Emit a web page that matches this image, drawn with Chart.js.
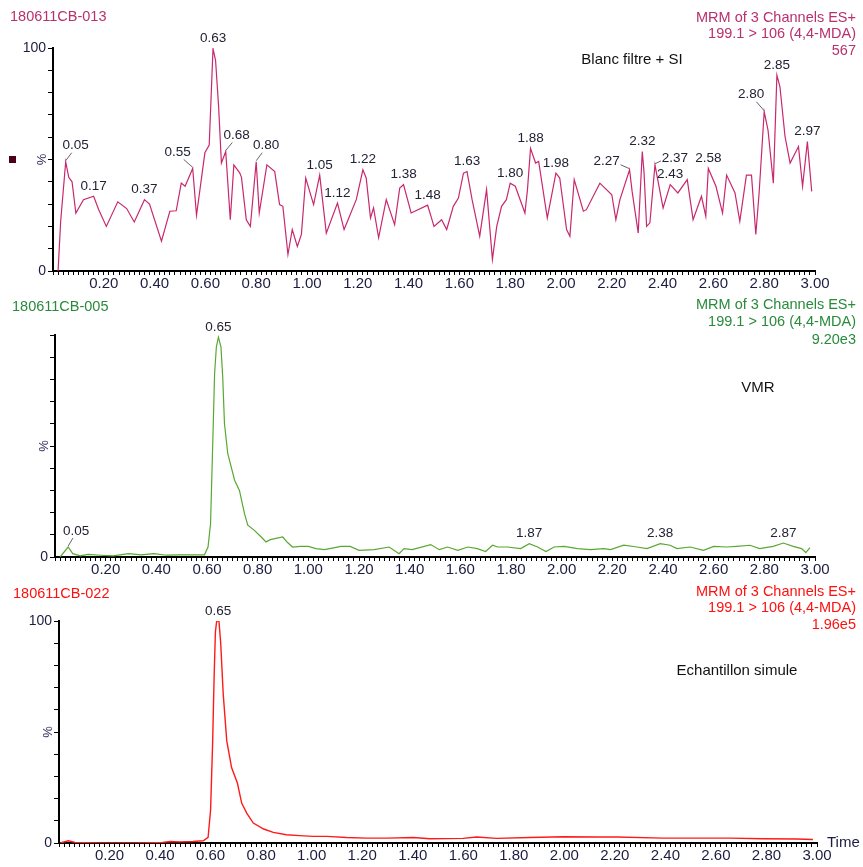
<!DOCTYPE html>
<html>
<head>
<meta charset="utf-8">
<script src="https://cdn.jsdelivr.net/npm/chart.js@4.4.0/dist/chart.umd.min.js"></script>
<style>
  body { margin: 0; background: #fff; width: 863px; height: 867px; overflow: hidden; position: relative; }
  canvas { position: absolute; left: 0; }
</style>
</head>
<body>
<canvas id="blanc" width="863" height="295" style="top:0px"></canvas>
<canvas id="vmr" width="863" height="295" style="top:290px"></canvas>
<canvas id="echant" width="863" height="287" style="top:580px"></canvas>
<script>
// x axis labels (minutes) and y ticks (%)
const xTickLabels = ["0.20", "0.40", "0.60", "0.80", "1.00", "1.20", "1.40", "1.60",
  "1.80", "2.00", "2.20", "2.40", "2.60", "2.80", "3.00"];
const yTickValues = [0, 10, 20, 30, 40, 50, 60, 70, 80, 90, 100];

// 180611CB-013 : Blanc filtre + SI
const blancTimes = [0.02, 0.03, 0.05, 0.062, 0.075, 0.09, 0.12, 0.16, 0.18, 0.21, 0.255, 0.29,
  0.32, 0.36, 0.38, 0.427, 0.46, 0.485, 0.505, 0.52, 0.55, 0.565, 0.585, 0.598, 0.615, 0.63,
  0.64, 0.652, 0.663, 0.68, 0.698, 0.712, 0.735, 0.742, 0.761, 0.777, 0.8, 0.812, 0.842, 0.873,
  0.892, 0.905, 0.925, 0.942, 0.962, 0.978, 0.995, 1.026, 1.05, 1.076, 1.12, 1.146, 1.194, 1.22,
  1.233, 1.25, 1.262, 1.282, 1.312, 1.345, 1.365, 1.38, 1.41, 1.475, 1.49, 1.5, 1.53, 1.55,
  1.576, 1.596, 1.616, 1.63, 1.65, 1.68, 1.707, 1.73, 1.747, 1.766, 1.785, 1.8, 1.82, 1.858,
  1.868, 1.88, 1.9, 1.912, 1.946, 1.98, 1.995, 2.022, 2.035, 2.052, 2.088, 2.1, 2.153, 2.2,
  2.216, 2.232, 2.27, 2.28, 2.304, 2.32, 2.327, 2.337, 2.35, 2.37, 2.376, 2.402, 2.43, 2.46,
  2.497, 2.52, 2.553, 2.57, 2.58, 2.61, 2.636, 2.652, 2.685, 2.704, 2.73, 2.75, 2.767, 2.78,
  2.8, 2.815, 2.836, 2.85, 2.862, 2.882, 2.902, 2.935, 2.951, 2.97, 2.987];
const blancValues = [0, 22, 49, 42, 40, 26, 32, 33.5, 27.5, 20, 31, 28,
  22, 32, 30, 13.4, 26.8, 27, 39.4, 38, 46, 25, 42, 53, 56.5, 99.7,
  94.5, 73.7, 48.4, 53.6, 23, 47.6, 44, 42, 23, 20, 49, 26, 47.6, 44.6,
  29.8, 29, 7.4, 18.6, 11, 16.4, 41.7, 29.8, 43, 17, 30.5, 18.6, 32, 45.4,
  41.7, 23.8, 28.3, 14.9, 32, 20.8, 37.2, 38.7, 26, 29.5, 23.8, 20, 23, 18.6,
  29, 32.7, 43.9, 44.6, 32, 15.6, 36.5, 5.2, 20, 29, 32, 39.4, 38, 26,
  36.5, 55, 48.4, 49.1, 23.8, 43.9, 41.7, 18.6, 15.6, 41, 26.8, 27.5, 39.4, 34.2,
  23, 32, 45.4, 35.7, 17, 53.6, 44, 20, 21.6, 47.6, 43.9, 28.3, 38.7, 35,
  41, 23, 33.5, 24.6, 46, 38, 26, 43, 35, 22.3, 43, 43, 16.4, 35,
  71.4, 63.2, 39.4, 87.8, 82.6, 60.3, 48.4, 55.8, 38, 58, 35.7];
const blancPeaks = [["0.05", 0.05, 49], ["0.17", 0.16, 33.5], ["0.37", 0.36, 32], ["0.55", 0.55, 46],
  ["0.63", 0.63, 99.7], ["0.68", 0.68, 53.6], ["0.80", 0.8, 49], ["1.05", 1.05, 43], ["1.12", 1.12, 30.5],
  ["1.22", 1.22, 45.4], ["1.38", 1.38, 38.7], ["1.48", 1.475, 29.5], ["1.63", 1.63, 44.6], ["1.80", 1.8, 39.4],
  ["1.88", 1.88, 55], ["1.98", 1.98, 43.9], ["2.27", 2.27, 45.4], ["2.32", 2.32, 53.6], ["2.37", 2.37, 47.6],
  ["2.43", 2.43, 38.7], ["2.58", 2.58, 46], ["2.80", 2.8, 71.4], ["2.85", 2.85, 87.8], ["2.97", 2.97, 58]];

// 180611CB-005 : VMR
const vmrTimes = [0.02, 0.052, 0.07, 0.1, 0.13, 0.18, 0.23, 0.29, 0.34, 0.39, 0.44, 0.49, 0.55, 0.59,
  0.604, 0.614, 0.623, 0.63, 0.637, 0.645, 0.655, 0.662, 0.669, 0.682, 0.709, 0.728, 0.748, 0.761,
  0.787, 0.814, 0.833, 0.85, 0.899, 0.918, 0.938, 0.97, 1.0, 1.03, 1.063, 1.095, 1.128, 1.165, 1.2,
  1.26, 1.319, 1.358, 1.378, 1.41, 1.483, 1.517, 1.55, 1.59, 1.63, 1.667, 1.7, 1.727, 1.747, 1.786,
  1.838, 1.872, 1.905, 1.938, 1.97, 2.01, 2.062, 2.114, 2.167, 2.193, 2.245, 2.297, 2.337, 2.389,
  2.428, 2.455, 2.507, 2.56, 2.6, 2.652, 2.691, 2.743, 2.782, 2.835, 2.875, 2.914, 2.947, 2.964, 2.98];
const vmrValues = [0, 4.5, 1.5, 0.5, 1.2, 0.8, 0.5, 1.5, 1, 1.5, 0.8, 1, 1, 1,
  4.5, 15, 52.6, 82.7, 94.7, 99, 94.7, 81.2, 60, 46.6, 34.6, 30, 19.5, 14.3,
  12, 9, 6.8, 7.8, 9, 6.5, 4.5, 4.8, 4.8, 3.8, 3.3, 4, 4.8, 4.8, 3,
  3.3, 4.5, 1.5, 3.8, 3.3, 5.6, 3.3, 4.5, 3, 4.5, 3.8, 2.5, 5.3, 4.5, 4.5,
  3.8, 6, 4.5, 2.5, 4.5, 4.8, 3.8, 3.3, 3.8, 3.3, 5.3, 4.5, 3.8, 6,
  5.3, 3.8, 4.5, 3, 4.8, 4.5, 4.8, 5.3, 3.8, 4.8, 6.3, 4.8, 3.8, 2, 4.2];
const vmrPeaks = [["0.05", 0.052, 4.5], ["0.65", 0.645, 99], ["1.87", 1.872, 6],
  ["2.38", 2.389, 6], ["2.87", 2.875, 6.3]];

// 180611CB-022 : Echantillon simule
const echTimes = [0.005, 0.037, 0.063, 0.16, 0.3, 0.41, 0.44, 0.48, 0.53, 0.571, 0.59, 0.6, 0.608,
  0.614, 0.619, 0.624, 0.633, 0.64, 0.65, 0.664, 0.683, 0.706, 0.723, 0.743, 0.769, 0.81, 0.848,
  0.9, 0.953, 1.006, 1.06, 1.138, 1.217, 1.3, 1.402, 1.468, 1.599, 1.653, 1.732, 1.864, 1.995,
  2.128, 2.207, 2.39, 2.655, 2.786, 2.919, 2.984];
const echValues = [0, 1, 0.3, 0, 0, 0.3, 0.7, 0.5, 0.7, 1, 2.5, 15, 45,
  75, 95, 100, 100, 90, 67, 46, 34, 27, 18, 13.5, 9, 6.3, 4.8,
  3.7, 3.3, 3, 3, 2.5, 2.2, 2.2, 2.5, 1.9, 2.1, 2.7, 2.1, 2.5, 2.8,
  2.7, 2.7, 2.2, 2.2, 1.9, 1.8, 1.6];
const echPeaks = [["0.65", 0.63, 100]];

const xMinor = [];
for (let i = 0; i <= 150; i++) xMinor.push(+(i * 0.02).toFixed(2));

const FONT = "'Liberation Sans', Arial, sans-serif";

const annot = {
  id: "annot",
  afterDraw(chart, args, o) {
    const ctx = chart.ctx;
    const xs = chart.scales.x, ys = chart.scales.y;
    ctx.save();
    ctx.textBaseline = "middle";
    ctx.font = "14.5px " + FONT;
    ctx.fillStyle = o.textColor;
    ctx.textAlign = "left";
    ctx.fillText(o.name, o.nameX, o.nameY);
    ctx.textAlign = "right";
    o.header.forEach((t, i) => ctx.fillText(t, 856, o.headerY[i]));

    ctx.fillStyle = "#111";
    ctx.textAlign = "center";
    ctx.font = "15px " + FONT;
    ctx.fillText(o.note, o.noteX, o.noteY);

    if (o.square) {
      ctx.fillStyle = "#4a0018";
      ctx.fillRect(o.square[0] - 3, o.square[1] - 3, 7, 7);
    }
    if (o.timeLabel) {
      ctx.fillStyle = "#1c1c40";
      ctx.textAlign = "left";
      ctx.font = "15px " + FONT;
      ctx.fillText("Time", xs.right + 10, ys.bottom);
    }

    // rotated % on y axis
    ctx.save();
    ctx.translate(ys.right - 11, ys.getPixelForValue(50));
    ctx.rotate(-Math.PI / 2);
    ctx.fillStyle = "#3a2a5a";
    ctx.textAlign = "center";
    ctx.font = "13px " + FONT;
    ctx.fillText("%", 0, 0);
    ctx.restore();

    // peak labels
    ctx.font = "13.5px " + FONT;
    ctx.fillStyle = "#222235";
    ctx.strokeStyle = "#666";
    ctx.lineWidth = 1;
    ctx.textAlign = "center";
    o.peaks.forEach(([text, t, v]) => {
      const px = xs.getPixelForValue(t), py = ys.getPixelForValue(v);
      const off = o.leaders[text];
      if (off) {
        const side = Math.abs(off[0]) > 16;
        const ex = side ? px + off[0] + Math.sign(off[0]) * -14 : px + off[0] * 0.6;
        const ey = side ? py + off[1] + 3 : py + off[1] + 7;
        ctx.beginPath();
        ctx.moveTo(px, py - 1);
        ctx.lineTo(ex, ey);
        ctx.stroke();
        ctx.fillText(text, px + off[0], py + off[1]);
      } else {
        ctx.fillText(text, px, py - 10);
      }
    });
    ctx.restore();
  }
};

function panel(id, o) {
  return new Chart(document.getElementById(id), {
    type: "line",
    data: {
      datasets: [{
        data: o.times.map((t, i) => ({ x: t, y: o.values[i] })),
        borderColor: o.lineColor,
        borderWidth: o.lineWidth,
        pointRadius: 0,
        tension: 0,
        fill: false,
      }],
    },
    options: {
      responsive: false,
      animation: false,
      events: [],
      layout: { padding: { top: o.top, right: o.right, left: 0, bottom: 0 } },
      plugins: {
        legend: { display: false },
        tooltip: { enabled: false },
        annot: o,
      },
      scales: {
        x: {
          type: "linear",
          min: 0,
          max: 3,
          afterBuildTicks: (s) => { s.ticks = xMinor.map((v) => ({ value: v })); },
          afterFit: (s) => { s.height = o.xh; },
          border: { display: true, color: "#000", width: 2 },
          grid: { drawOnChartArea: false, drawTicks: true, tickLength: 4, tickColor: "#000" },
          ticks: {
            autoSkip: false,
            maxRotation: 0,
            padding: 0,
            color: "#1c1c40",
            font: { family: FONT, size: 15 },
            callback: (v) => {
              const s = Number(v).toFixed(2);
              return xTickLabels.includes(s) ? s : "";
            },
          },
        },
        y: {
          min: 0,
          max: 100,
          afterBuildTicks: (s) => { s.ticks = yTickValues.map((v) => ({ value: v })); },
          afterFit: (s) => { s.width = o.left; },
          border: { display: true, color: "#000", width: 2 },
          grid: { drawOnChartArea: false, drawTicks: true, tickLength: 5, tickColor: "#000" },
          ticks: {
            autoSkip: false,
            padding: 2,
            color: "#1c1c40",
            font: { family: FONT, size: 14 },
            callback: (v) => (o.yLabels.includes(v) ? String(v) : ""),
          },
        },
      },
    },
    plugins: [annot],
  });
}

const header = ["MRM of 3 Channels ES+", "199.1 > 106 (4,4-MDA)"];

panel("blanc", {
  times: blancTimes, values: blancValues, peaks: blancPeaks,
  leaders: { "0.05": [10, -16], "0.55": [-15, -16], "0.68": [11, -16], "0.80": [10, -16],
    "2.27": [-23, -8], "2.37": [20, -7], "2.80": [-13, -17] },
  lineColor: "#c8286e", lineWidth: 1.2, textColor: "#b8306e",
  top: 48, right: 48, left: 53, xh: 24, yLabels: [0, 100],
  name: "180611CB-013", nameX: 10, nameY: 17,
  header: header.concat(["567"]), headerY: [18, 34, 51],
  note: "Blanc filtre + SI", noteX: 632, noteY: 60,
  square: [12, 159],
});

panel("vmr", {
  times: vmrTimes, values: vmrValues, peaks: vmrPeaks,
  leaders: { "0.05": [8, -16] },
  lineColor: "#58a832", lineWidth: 1.2, textColor: "#2a8a3c",
  top: 45, right: 48, left: 55, xh: 28, yLabels: [0],
  name: "180611CB-005", nameX: 12, nameY: 17,
  header: header.concat(["9.20e3"]), headerY: [15, 32, 50],
  note: "VMR", noteX: 758, noteY: 98,
});

panel("echant", {
  times: echTimes, values: echValues, peaks: echPeaks,
  leaders: {},
  lineColor: "#ff1a1a", lineWidth: 1.4, textColor: "#ff1010",
  top: 41, right: 46, left: 59, xh: 24, yLabels: [0, 100],
  name: "180611CB-022", nameX: 13, nameY: 14,
  header: header.concat(["1.96e5"]), headerY: [12, 28, 45],
  note: "Echantillon simule", noteX: 737, noteY: 91,
  timeLabel: true,
});
</script>
</body>
</html>
